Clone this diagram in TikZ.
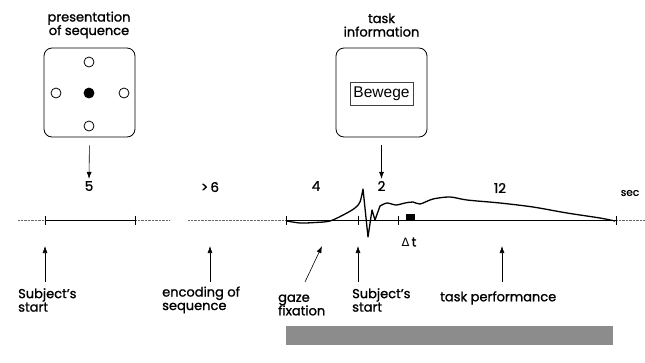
\documentclass[tikz,border=0pt]{standalone}
\usepackage{fontspec}
\setmainfont{Poppins}[FakeBold=1.2]
\newfontfamily\wortfont{Liberation Sans}
\newfontfamily\symbfont{DejaVu Sans}
\usetikzlibrary{arrows.meta}

\begin{document}
\begin{tikzpicture}[x=1pt, y=-1pt,
    lab/.style={font=\fontsize{13}{13.5}\selectfont, inner sep=0pt},
    num/.style={font=\fontsize{13.5}{13}\selectfont, inner sep=1pt},
    screen/.style={draw, thick, rounded corners=8pt, minimum width=91pt, minimum height=89pt},
    dot/.style={circle, draw, thick, minimum size=10pt, inner sep=0pt},
    pfeil/.style={-{Latex[length=7pt,width=5pt]}, semithick},
    leer/.style={densely dotted, black!60},
    kurve/.style={line width=1.3pt, line join=round}]

    \useasboundingbox (0,0) rectangle (645,362);

    % Bildschirm: Darbietung der Sequenz
    \node[lab, align=center] (seqtitel) at (89,25) {presentation\\of sequence};
    \node[screen] (seq) at (89.5,92.5) {};
    \node[dot] (c1) at (89,62) {};
    \node[dot] (c2) at (56,93) {};
    \node[dot, fill] (c3) at (89,93) {};
    \node[dot] (c4) at (124,93) {};
    \node[dot] (c5) at (89,126) {};

    % Bildschirm: Aufgabeninformation
    \node[lab, align=center] (tasktitel) at (381.5,25) {task\\information};
    \node[screen] (task) at (381.5,92.5) {};
    \node[draw, thin, black!75, minimum width=63pt, minimum height=23pt, inner sep=0pt,
          text=black, font=\wortfont\fontsize{15.5}{15}\selectfont] (wort) at (381.5,93.5) {Bewege};

    % Dauer der Abschnitte
    \node[num] (n5) at (89,186) {5};
    \node[num] (n6) at (210,187) {>\,6};
    \node[num] (n4) at (316,186) {4};
    \node[num] (n2) at (381.5,186) {2};
    \node[num] (n12) at (500,188) {12};
    \node[num, font=\fontsize{10.5}{10}\selectfont] (sek) at (630,193) {sec};

    \draw[pfeil, shorten <=8pt, shorten >=1pt] (seq.south) -- (n5.north);
    \draw[pfeil, shorten <=8pt, shorten >=1pt] (task.south) -- (n2.north);

    % Zeitachse
    \coordinate (t1) at (45,220);
    \coordinate (t2) at (135,220);
    \coordinate (t3) at (286,220);
    \coordinate (t4) at (358,220);
    \coordinate (t5) at (398,220);
    \coordinate (t6) at (616,220);
    \draw[leer] (18,220) -- (t1);
    \draw[semithick] (t1) -- (t2);
    \draw[leer] (t2) -- (170,220);
    \draw[leer] (188,220) -- (t3);
    \draw[thin] (t3) -- (t6);
    \draw[leer] (t6) -- (645,220);
    \foreach \t in {t1,t2,t3,t4,t5,t6}
        \draw[semithick] (\t) ++(0,-4.5) -- ++(0,9);

    % Messkurve
    \draw[kurve] plot[smooth, tension=0.5] coordinates {(287,221) (300,223) (315,222.5) (330,221) (345,214) (355,208) (360,202) (363,189)}
        -- (368,237) -- (372,210) -- (375,220)
        -- plot[smooth, tension=0.5] coordinates {(380,206) (387,203) (396,205) (405,203) (413,202) (420,204) (433,199) (450,197) (467,200) (500,203) (533,207) (567,213) (600,218) (615,221)};
    \fill (406,213.5) rectangle (415,219.5);
    \node[lab] (dt) at (409,242) {{\symbfont\fontsize{11.5}{11}\selectfont Δ}\,t};

    % Markierungen unten
    \coordinate (s1) at (45,282);   \coordinate (p1) at (45,246);
    \coordinate (s2) at (210,282);  \coordinate (p2) at (210,246);
    \coordinate (s3) at (305,282);  \coordinate (p3) at (322,246);
    \coordinate (s4) at (358,282);  \coordinate (p4) at (358,246);
    \coordinate (s5) at (502,282);  \coordinate (p5) at (502,246);
    \foreach \i in {1,...,5}
        \draw[pfeil] (s\i) -- (p\i);

    \node[lab, align=left, anchor=west] (lstart) at (18,300) {Subject's\\start};
    \node[lab, align=left, anchor=west] (lenc) at (162,300) {encoding of\\sequence};
    \node[lab, align=left, anchor=west] (lgaze) at (278,305) {gaze\\fixation};
    \node[lab, align=left, anchor=west] (lstart2) at (352,300) {Subject's\\start};
    \node[lab, anchor=west] (lperf) at (440,298) {task performance};

    % grauer Balken
    \fill[black!45] (286,326) rectangle (613,345);
\end{tikzpicture}
\end{document}
